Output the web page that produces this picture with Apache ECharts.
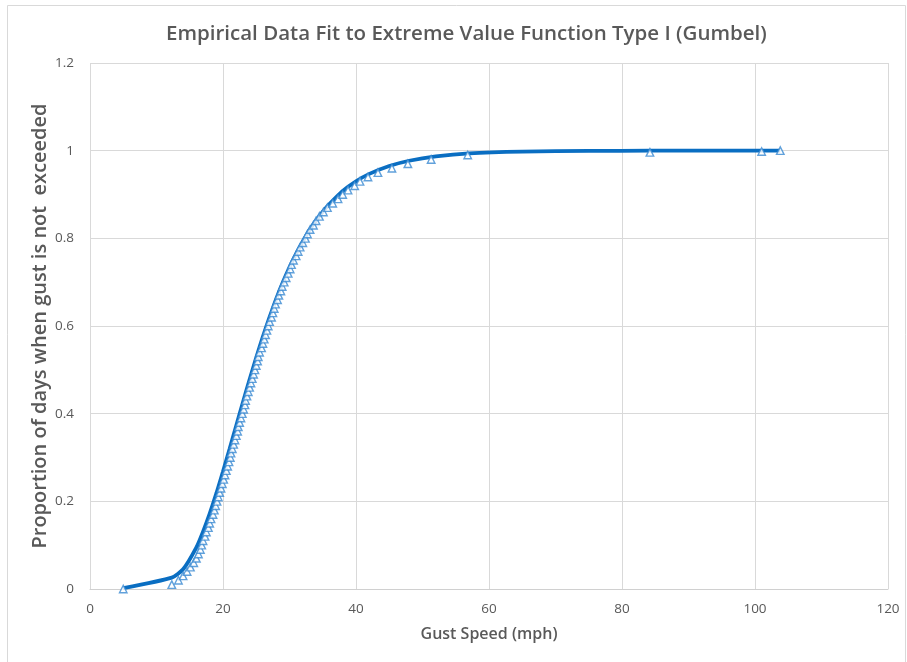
<!DOCTYPE html>
<html>
<head>
<meta charset="utf-8">
<script src="https://cdn.jsdelivr.net/npm/echarts@6/dist/echarts.min.js"></script>
<style>
  html, body { margin: 0; padding: 0; background: #ffffff; }
  #chart { width: 907px; height: 662px; }
</style>
</head>
<body>
<div id="chart"></div>
<script>
// Observed daily peak gust speeds (mph), sorted ascending
const gustSpeed = [
  5.0, 12.3, 13.3, 14.0, 14.6, 15.1, 15.6, 16.0, 16.3, 16.6,
  16.8, 17.0, 17.3, 17.5, 17.8, 18.0, 18.2, 18.5, 18.7, 18.9,
  19.1, 19.3, 19.5, 19.7, 19.9, 20.1, 20.3, 20.5, 20.7, 20.9,
  21.1, 21.2, 21.4, 21.6, 21.8, 22.0, 22.2, 22.3, 22.5, 22.7,
  22.9, 23.1, 23.3, 23.4, 23.6, 23.8, 24.0, 24.2, 24.4, 24.6,
  24.8, 25.0, 25.2, 25.3, 25.5, 25.8, 26.0, 26.2, 26.4, 26.6,
  26.8, 27.0, 27.3, 27.5, 27.7, 27.9, 28.2, 28.4, 28.7, 28.9,
  29.2, 29.5, 29.8, 30.1, 30.3, 30.6, 31.0, 31.3, 31.6, 32.0,
  32.4, 32.7, 33.1, 33.6, 34.0, 34.5, 35.1, 35.7, 36.5, 37.3,
  38.0, 38.8, 39.8, 40.6, 41.8, 43.3, 45.4, 47.8, 51.3, 56.8,
  84.2, 101.0, 103.8
];

// Empirical proportion of days at or below each gust speed
const empiricalProportion = [
  0.00, 0.01, 0.02, 0.03, 0.04, 0.05, 0.06, 0.07, 0.08, 0.09,
  0.10, 0.11, 0.12, 0.13, 0.14, 0.15, 0.16, 0.17, 0.18, 0.19,
  0.20, 0.21, 0.22, 0.23, 0.24, 0.25, 0.26, 0.27, 0.28, 0.29,
  0.30, 0.31, 0.32, 0.33, 0.34, 0.35, 0.36, 0.37, 0.38, 0.39,
  0.40, 0.41, 0.42, 0.43, 0.44, 0.45, 0.46, 0.47, 0.48, 0.49,
  0.50, 0.51, 0.52, 0.53, 0.54, 0.55, 0.56, 0.57, 0.58, 0.59,
  0.60, 0.61, 0.62, 0.63, 0.64, 0.65, 0.66, 0.67, 0.68, 0.69,
  0.70, 0.71, 0.72, 0.73, 0.74, 0.75, 0.76, 0.77, 0.78, 0.79,
  0.80, 0.81, 0.82, 0.83, 0.84, 0.85, 0.86, 0.87, 0.88, 0.89,
  0.90, 0.91, 0.92, 0.93, 0.94, 0.95, 0.96, 0.97, 0.98, 0.99,
  0.996, 0.998, 1.00
];

// Fitted Gumbel (Type I) cumulative curve
const fitSpeed = [
  5.0, 12.3, 14.0, 16.0, 17, 18, 19, 20, 21, 22,
  23, 24, 25, 26, 27, 28, 29, 30, 31, 32,
  33, 34, 35, 36, 38, 40, 42, 45, 48, 52,
  57, 65, 75, 84.2, 95, 101.0, 103.8
];
const fitProportion = [
  0.002, 0.026, 0.045, 0.095, 0.131, 0.172, 0.218, 0.268, 0.320, 0.373,
  0.426, 0.478, 0.528, 0.576, 0.620, 0.662, 0.700, 0.734, 0.765, 0.793,
  0.819, 0.841, 0.861, 0.878, 0.908, 0.930, 0.947, 0.965, 0.977, 0.987,
  0.994, 0.998, 0.9995, 0.9999, 1.0, 1.0, 1.0
];

const xTicks = { min: 0, max: 120, step: 20 };
const yTicks = { min: 0, max: 1.2, step: 0.2 };

const font = '"Open Sans", "Liberation Sans", sans-serif';
const textGray = '#595959';

const chart = echarts.init(document.getElementById('chart'), null, { renderer: 'canvas' });

chart.setOption({
  backgroundColor: '#ffffff',
  animation: false,
  title: {
    text: 'Empirical Data Fit to Extreme Value Function Type I (Gumbel)',
    left: 161,
    top: 19,
    textStyle: { fontFamily: font, fontSize: 20.5, fontWeight: 600, color: textGray }
  },
  graphic: [{
    type: 'rect',
    shape: { x: 7.5, y: 5.5, width: 898, height: 660 },
    style: { fill: 'none', stroke: '#d9d9d9', lineWidth: 1 },
    silent: true
  }],
  grid: { left: 90, right: 19, top: 63, bottom: 73, containLabel: false },
  xAxis: {
    type: 'value',
    min: xTicks.min, max: xTicks.max, interval: xTicks.step,
    name: 'Gust Speed (mph)',
    nameLocation: 'middle',
    nameGap: 37,
    nameTextStyle: { fontFamily: font, fontSize: 16, fontWeight: 600, color: textGray },
    axisLine: { show: true, lineStyle: { color: '#d0d0d0', width: 1 } },
    axisTick: { show: false },
    axisLabel: { fontFamily: font, fontSize: 13.5, color: textGray, margin: 13 },
    splitLine: { show: true, lineStyle: { color: '#d9d9d9', width: 1 } }
  },
  yAxis: {
    type: 'value',
    min: yTicks.min, max: yTicks.max, interval: yTicks.step,
    name: 'Proportion of days when gust is not  exceeded',
    nameLocation: 'middle',
    nameGap: 40,
    nameMoveOverlap: false,
    nameTextStyle: { fontFamily: font, fontSize: 20, fontWeight: 600, color: textGray },
    axisLine: { show: false },
    axisTick: { show: false },
    axisLabel: {
      fontFamily: font, fontSize: 13.5, color: textGray, margin: 16,
      formatter: v => String(Math.round(v * 10) / 10)
    },
    splitLine: { show: true, lineStyle: { color: '#d9d9d9', width: 1 } }
  },
  series: [
    {
      name: 'Gumbel fit',
      type: 'line',
      data: fitSpeed.map((x, i) => [x, fitProportion[i]]),
      smooth: 0.2,
      showSymbol: false,
      symbol: 'none',
      lineStyle: { color: '#0a6ec2', width: 3.8 },
      z: 2
    },
    {
      name: 'Empirical',
      type: 'scatter',
      data: gustSpeed.map((x, i) => [x, empiricalProportion[i]]),
      symbol: 'triangle',
      symbolSize: 7.5,
      itemStyle: { color: '#ffffff', borderColor: '#3a8ad2', borderWidth: 1.4 },
      z: 3
    }
  ]
});
</script>
</body>
</html>
